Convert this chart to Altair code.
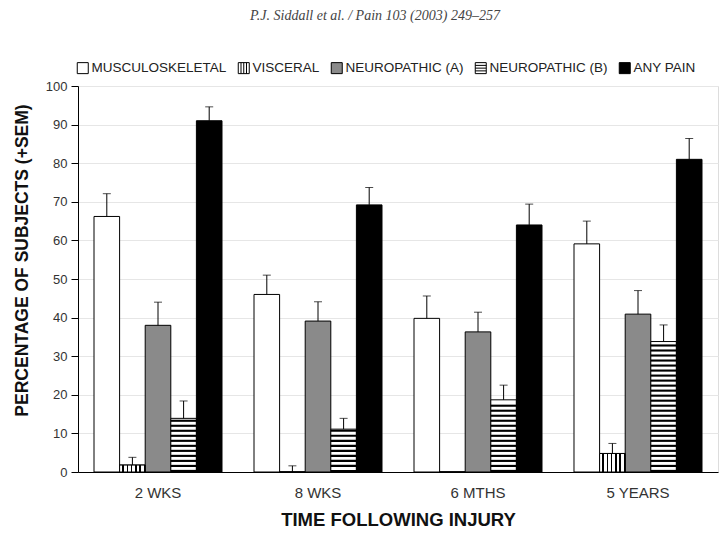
import altair as alt
import pandas as pd

# Time points and pain types
periods = ["2 WKS", "8 WKS", "6 MTHS", "5 YEARS"]
series = ["MUSCULOSKELETAL", "VISCERAL", "NEUROPATHIC (A)", "NEUROPATHIC (B)", "ANY PAIN"]

# Percentage of subjects reporting each pain type, and SEM
musculoskeletal = [66.2, 46.0, 39.8, 59.1]
musculoskeletal_sem = [5.9, 5.0, 5.8, 5.9]
visceral = [1.8, 0.0, 0.0, 4.8]
visceral_sem = [2.0, 1.6, 0.0, 2.6]
neuropathic_a = [38.0, 39.1, 36.3, 40.9]
neuropathic_a_sem = [6.0, 5.0, 5.1, 6.1]
neuropathic_b = [13.9, 11.1, 18.7, 33.8]
neuropathic_b_sem = [4.5, 2.8, 3.8, 4.3]
any_pain = [91.0, 69.2, 64.0, 81.0]
any_pain_sem = [3.6, 4.5, 5.4, 5.4]

y_ticks = list(range(0, 101, 10))

values = [musculoskeletal, visceral, neuropathic_a, neuropathic_b, any_pain]
sems = [musculoskeletal_sem, visceral_sem, neuropathic_a_sem, neuropathic_b_sem, any_pain_sem]

rows = []
for s, vals, errs in zip(series, values, sems):
    for p, v, e in zip(periods, vals, errs):
        rows.append({"period": p, "series": s, "value": v, "sem": e, "top": v + e})
df = pd.DataFrame(rows)

# Horizontal hatching rows for the NEUROPATHIC (B) bars
stripe_step, stripe_thick = 1.3, 0.55
stripe_rows = []
for p, v in zip(periods, neuropathic_b):
    k = 0
    while k * stripe_step + stripe_thick <= v:
        y0 = k * stripe_step
        stripe_rows.append({"period": p, "series": "NEUROPATHIC (B)", "y0": y0, "y1": y0 + stripe_thick})
        k += 1
stripes_df = pd.DataFrame(stripe_rows)

fills = ["white", "white", "#8a8a8a", "white", "black"]
square = "M-1,-1H1V1H-1Z"
shapes = [
    square,
    square + "M-0.5,-1V1M0,-1V1M0.5,-1V1",
    square,
    square + "M-1,-0.5H1M-1,0H1M-1,0.5H1",
    square,
]

FONT = "Liberation Sans"

legend = alt.Legend(
    title=None, orient="none", legendX=-2, legendY=-25, direction="horizontal",
    labelFont=FONT, labelFontSize=13.5, labelColor="#222", labelOffset=2,
    columnPadding=9, symbolSize=121, symbolStrokeColor="black",
    symbolStrokeWidth=1, symbolOpacity=1,
)

x_enc = alt.X(
    "period:N", sort=periods,
    scale=alt.Scale(paddingInner=0.2, paddingOuter=0.1),
    axis=alt.Axis(
        title="TIME FOLLOWING INJURY", labelAngle=0, ticks=False,
        labelFont=FONT, labelFontSize=15, labelColor="#333", labelPadding=13,
        titleFont=FONT, titleFontSize=18.5, titleFontWeight="bold", titleColor="#111",
        titlePadding=10, domainColor="black",
    ),
)
xo_enc = alt.XOffset("series:N", sort=series, scale=alt.Scale(domain=series, paddingInner=0, paddingOuter=0))
y_scale = alt.Scale(domain=[0, 100], nice=False)
y_axis = alt.Axis(
    title="PERCENTAGE OF SUBJECTS (+SEM)", values=y_ticks,
    labelFont=FONT, labelFontSize=13, labelColor="#333", labelPadding=4,
    labelOverlap=False,
    tickSize=7, tickColor="black", domainColor="black",
    grid=True, gridColor="#e6e6e6",
    titleFont=FONT, titleFontSize=17.5, titleFontWeight="bold", titleColor="#111",
    titleX=-56, titleY=174, titleBaseline="middle",
)


def y_enc(field):
    return alt.Y(field, scale=y_scale, axis=y_axis)


fill_enc = alt.Fill("series:N", sort=series, scale=alt.Scale(domain=series, range=fills), legend=legend)

bars = alt.Chart(df).mark_bar(stroke="black", strokeWidth=1).encode(
    x=x_enc, xOffset=xo_enc, y=y_enc("value:Q"), fill=fill_enc,
)

# Vertical hatching for the VISCERAL bars
stops = []
n_lines = 6
for i in range(n_lines):
    a = i / n_lines
    b = a + 0.62 / n_lines
    c = (i + 1) / n_lines
    stops += [
        alt.GradientStop(offset=a, color="white"),
        alt.GradientStop(offset=b, color="white"),
        alt.GradientStop(offset=b, color="black"),
        alt.GradientStop(offset=c, color="black"),
    ]
hatch_v = alt.LinearGradient(gradient="linear", stops=stops, x1=0, x2=1, y1=0, y2=0)

visc = alt.Chart(df).transform_filter(alt.datum.series == "VISCERAL").mark_bar(
    fill=hatch_v, stroke="black", strokeWidth=1
).encode(x=x_enc, xOffset=xo_enc, y=y_enc("value:Q"))

stripes = alt.Chart(stripes_df).mark_bar(fill="black").encode(
    x=x_enc, xOffset=xo_enc, y=y_enc("y0:Q"), y2="y1:Q",
)

err_df = df[df["sem"] > 0]
err_rule = alt.Chart(err_df).mark_rule(color="black", strokeWidth=1).encode(
    x=x_enc, xOffset=xo_enc, y=y_enc("value:Q"), y2="top:Q",
)
err_cap = alt.Chart(err_df).mark_tick(color="black", thickness=1, size=8, orient="horizontal").encode(
    x=x_enc, xOffset=xo_enc, y=y_enc("top:Q"),
)

# Invisible points that carry the hatched legend symbols
legend_pts = alt.Chart(df).mark_point(opacity=0, strokeWidth=1, filled=True).encode(
    x=x_enc, xOffset=xo_enc, y=y_enc("value:Q"),
    fill=fill_enc,
    stroke=alt.Stroke("series:N", sort=series, scale=alt.Scale(domain=series, range=["black"] * len(series)), legend=legend),
    shape=alt.Shape("series:N", sort=series, scale=alt.Scale(domain=series, range=shapes), legend=legend),
)

chart = alt.layer(bars, visc, stripes, err_rule, err_cap, legend_pts).properties(
    width=640, height=386,
    autosize=alt.AutoSizeParams(type="none"),
    padding={"left": 78, "top": 86, "right": 2, "bottom": 61},
    title=alt.TitleParams(
        text="P.J. Siddall et al. / Pain 103 (2003) 249\u2013257",
        font="Liberation Serif", fontStyle="italic", fontWeight="normal",
        fontSize=14, color="#444", anchor="middle", dx=-23, offset=38,
    ),
).configure_view(stroke="black", strokeWidth=1).configure(background="white")

chart.save("out.html", embed_options={"renderer": "svg", "actions": False})
